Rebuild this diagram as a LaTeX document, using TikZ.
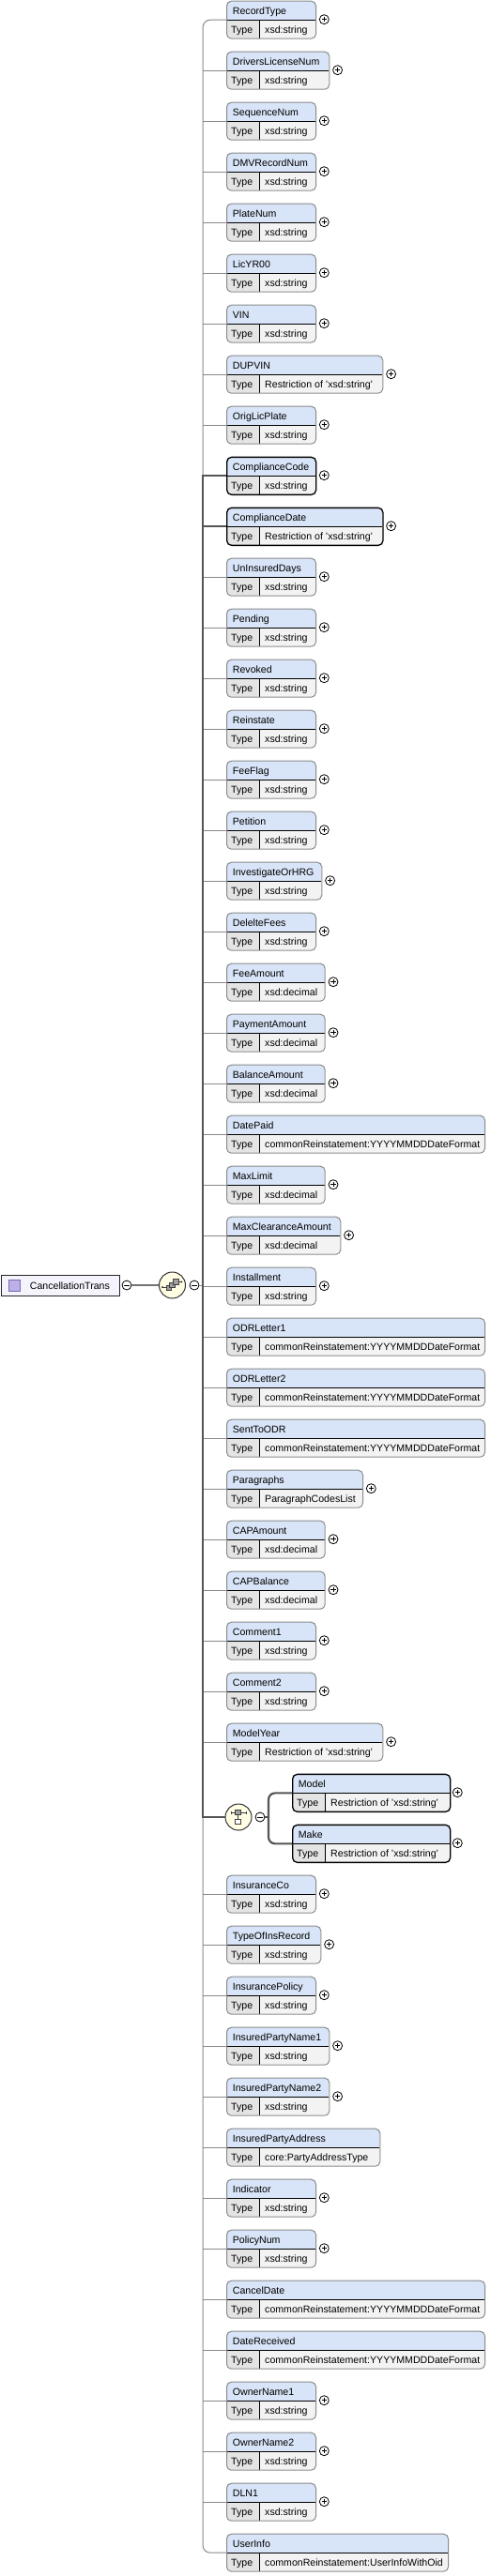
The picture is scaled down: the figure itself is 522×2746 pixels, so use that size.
\documentclass[tikz,border=0pt]{standalone}
\usepackage{fontspec}
\setmainfont{Liberation Sans}
\definecolor{hdr}{HTML}{D8E4F7}
\definecolor{typec}{HTML}{E4E4E4}
\definecolor{valc}{HTML}{F3F3F3}
\definecolor{conn}{HTML}{8A8A8A}
\definecolor{tconn}{HTML}{555555}
\definecolor{bord}{HTML}{8C8C8C}
\definecolor{rootfill}{HTML}{F5F3FB}
\definecolor{iconfill}{HTML}{BDB0E6}
\definecolor{icondraw}{HTML}{7A6BB5}
\definecolor{compfill}{HTML}{FFFDE3}
\definecolor{sqfill}{HTML}{A0A0A0}
\tikzset{
  thinconn/.style={draw=conn, line width=1pt},
  thickconn/.style={draw=tconn, line width=2.2pt},
  rootconn/.style={draw=black!55, line width=2pt},
  optbox/.style={draw=bord, line width=1pt},
  reqbox/.style={draw=black, line width=1.3pt},
  lbl/.style={anchor=base west, inner sep=0pt, font=\fontsize{10.6}{12}\selectfont},
  plusc/.style={circle, draw=black, fill=white, line width=0.8pt, minimum size=10pt, inner sep=0pt,
    path picture={\draw[line width=0.8pt] ([xshift=-2.6pt]path picture bounding box.center) -- ([xshift=2.6pt]path picture bounding box.center) ([yshift=-2.6pt]path picture bounding box.center) -- ([yshift=2.6pt]path picture bounding box.center);}},
  minusc/.style={circle, draw=black, fill=white, line width=0.8pt, minimum size=10pt, inner sep=0pt,
    path picture={\draw[line width=0.8pt] ([xshift=-2.6pt]path picture bounding box.center) -- ([xshift=2.6pt]path picture bounding box.center);}},
  compc/.style={circle, draw=black!80, fill=compfill, line width=1pt, minimum size=28pt, inner sep=0pt},
  graysq/.style={draw=black!75, fill=sqfill, line width=0.7pt, minimum size=5.5pt, inner sep=0pt},
  whitesq/.style={draw=black!75, fill=white, line width=0.7pt, minimum size=5.5pt, inner sep=0pt},
  rootbox/.style={draw=black!85, fill=rootfill, line width=1pt, anchor=north west, minimum width=126pt, minimum height=22pt, inner sep=0pt},
  iconbox/.style={draw=icondraw, fill=iconfill, line width=0.8pt, minimum size=12pt, inner sep=0pt}
}
% #1 index, #2 left, #3 right, #4 label, #5 type, #6 border style
\newcommand\xel[6]{%
  \pgfmathsetmacro\xtp{0.7+54*#1}%
  \pgfmathsetmacro\xbt{\xtp+40}%
  \pgfmathsetmacro\xhd{\xtp+20.6}%
  \pgfmathsetmacro\xtc{#2+35.3}%
  \pgfmathsetmacro\xwd{#3-#2}%
  \begin{scope}
    \clip[rounded corners=5pt] (#2,\xtp) rectangle (#3,\xbt);
    \fill[valc] (#2,\xtp) rectangle (#3,\xbt);
    \fill[hdr] (#2,\xtp) rectangle (#3,\xhd);
    \fill[typec] (#2,\xhd) rectangle (\xtc,\xbt);
  \end{scope}
  \draw[black, line width=0.9pt] (#2,\xhd) -- (#3,\xhd) (\xtc,\xhd) -- (\xtc,\xbt);
  \node[#6, rounded corners=5pt, anchor=north west, minimum width=\xwd pt, minimum height=40pt, inner sep=0pt] (e#1) at (#2,\xtp) {};
  \node[lbl] (e#1n) at (#2+6.7,\xtp+14.8) {#4};
  \node[lbl] (e#1k) at (#2+5,\xtp+34.6) {Type};
  \node[lbl] (e#1t) at (#2+41,\xtp+34.6) {#5};
}
\newcommand\xplus[2]{%
  \pgfmathsetmacro\xpy{0.7+54*#1+20}%
  \node[plusc] (p#1) at (#2+9.3,\xpy) {};
}
\begin{document}
\begin{tikzpicture}[x=1pt,y=-1pt]
\useasboundingbox (0,0) rectangle (522,2746);
\fill[white] (0,0) rectangle (522,2746);

\coordinate (sp) at (216,1370);
\coordinate (br) at (286,1937);

% elements
\xel{0}{241}{336}{RecordType}{xsd:string}{optbox}\xplus{0}{336}
\xel{1}{241}{350.3}{DriversLicenseNum}{xsd:string}{optbox}\xplus{1}{350.3}
\xel{2}{241}{336}{SequenceNum}{xsd:string}{optbox}\xplus{2}{336}
\xel{3}{241}{336}{DMVRecordNum}{xsd:string}{optbox}\xplus{3}{336}
\xel{4}{241}{336}{PlateNum}{xsd:string}{optbox}\xplus{4}{336}
\xel{5}{241}{336}{LicYR00}{xsd:string}{optbox}\xplus{5}{336}
\xel{6}{241}{336}{VIN}{xsd:string}{optbox}\xplus{6}{336}
\xel{7}{241}{407.3}{DUPVIN}{Restriction of 'xsd:string'}{optbox}\xplus{7}{407.3}
\xel{8}{241}{336}{OrigLicPlate}{xsd:string}{optbox}\xplus{8}{336}
\xel{9}{241}{336}{ComplianceCode}{xsd:string}{reqbox}\xplus{9}{336}
\xel{10}{241}{407.3}{ComplianceDate}{Restriction of 'xsd:string'}{reqbox}\xplus{10}{407.3}
\xel{11}{241}{336}{UnInsuredDays}{xsd:string}{optbox}\xplus{11}{336}
\xel{12}{241}{336}{Pending}{xsd:string}{optbox}\xplus{12}{336}
\xel{13}{241}{336}{Revoked}{xsd:string}{optbox}\xplus{13}{336}
\xel{14}{241}{336}{Reinstate}{xsd:string}{optbox}\xplus{14}{336}
\xel{15}{241}{336}{FeeFlag}{xsd:string}{optbox}\xplus{15}{336}
\xel{16}{241}{336}{Petition}{xsd:string}{optbox}\xplus{16}{336}
\xel{17}{241}{342.3}{InvestigateOrHRG}{xsd:string}{optbox}\xplus{17}{342.3}
\xel{18}{241}{336}{DelelteFees}{xsd:string}{optbox}\xplus{18}{336}
\xel{19}{241}{345.7}{FeeAmount}{xsd:decimal}{optbox}\xplus{19}{345.7}
\xel{20}{241}{345.7}{PaymentAmount}{xsd:decimal}{optbox}\xplus{20}{345.7}
\xel{21}{241}{345.7}{BalanceAmount}{xsd:decimal}{optbox}\xplus{21}{345.7}
\xel{22}{241}{516}{DatePaid}{commonReinstatement:YYYYMMDDDateFormat}{optbox}
\xel{23}{241}{345.7}{MaxLimit}{xsd:decimal}{optbox}\xplus{23}{345.7}
\xel{24}{241}{362.3}{MaxClearanceAmount}{xsd:decimal}{optbox}\xplus{24}{362.3}
\xel{25}{241}{336}{Installment}{xsd:string}{optbox}\xplus{25}{336}
\xel{26}{241}{516}{ODRLetter1}{commonReinstatement:YYYYMMDDDateFormat}{optbox}
\xel{27}{241}{516}{ODRLetter2}{commonReinstatement:YYYYMMDDDateFormat}{optbox}
\xel{28}{241}{516}{SentToODR}{commonReinstatement:YYYYMMDDDateFormat}{optbox}
\xel{29}{241}{386}{Paragraphs}{ParagraphCodesList}{optbox}\xplus{29}{386}
\xel{30}{241}{345.7}{CAPAmount}{xsd:decimal}{optbox}\xplus{30}{345.7}
\xel{31}{241}{345.7}{CAPBalance}{xsd:decimal}{optbox}\xplus{31}{345.7}
\xel{32}{241}{336}{Comment1}{xsd:string}{optbox}\xplus{32}{336}
\xel{33}{241}{336}{Comment2}{xsd:string}{optbox}\xplus{33}{336}
\xel{34}{241}{407.3}{ModelYear}{Restriction of 'xsd:string'}{optbox}\xplus{34}{407.3}
\xel{35}{311}{479}{Model}{Restriction of 'xsd:string'}{reqbox}\xplus{35}{478}
\xel{36}{311}{479}{Make}{Restriction of 'xsd:string'}{reqbox}\xplus{36}{478}
\xel{37}{241}{336}{InsuranceCo}{xsd:string}{optbox}\xplus{37}{336}
\xel{38}{241}{341.3}{TypeOfInsRecord}{xsd:string}{optbox}\xplus{38}{341.3}
\xel{39}{241}{336}{InsurancePolicy}{xsd:string}{optbox}\xplus{39}{336}
\xel{40}{241}{350.3}{InsuredPartyName1}{xsd:string}{optbox}\xplus{40}{350.3}
\xel{41}{241}{350.3}{InsuredPartyName2}{xsd:string}{optbox}\xplus{41}{350.3}
\xel{42}{241}{404.3}{InsuredPartyAddress}{core:PartyAddressType}{optbox}
\xel{43}{241}{336}{Indicator}{xsd:string}{optbox}\xplus{43}{336}
\xel{44}{241}{336}{PolicyNum}{xsd:string}{optbox}\xplus{44}{336}
\xel{45}{241}{516}{CancelDate}{commonReinstatement:YYYYMMDDDateFormat}{optbox}
\xel{46}{241}{516}{DateReceived}{commonReinstatement:YYYYMMDDDateFormat}{optbox}
\xel{47}{241}{336}{OwnerName1}{xsd:string}{optbox}\xplus{47}{336}
\xel{48}{241}{336}{OwnerName2}{xsd:string}{optbox}\xplus{48}{336}
\xel{49}{241}{336}{DLN1}{xsd:string}{optbox}\xplus{49}{336}
\xel{50}{241}{477}{UserInfo}{commonReinstatement:UserInfoWithOid}{optbox}

% root element
\node[rootbox] (root) at (0.5,1359) {};
\node[iconbox] (rooticon) at (15.5,1370) {};
\node[lbl] (rootlbl) at (31.7,1374.3) {CancellationTrans};
\node[minusc] (m1) at (135,1370) {};

% sequence compositor
\node[compc] (seq) at (183.5,1370) {};
\node[minusc] (m2) at (207,1370) {};
\draw[rootconn] (m1.east) -- (seq.west);
\draw[black!75, line width=0.8pt] (173,1372) -- (177.5,1372) (189,1366.5) -- (193.5,1366.5);
\fill[black] (173,1372) circle (0.9pt) (193.5,1366.5) circle (0.9pt);
\node[graysq] (sq1) at (179.8,1372.8) {};
\node[graysq] (sq2) at (183.5,1369.6) {};
\node[graysq] (sq3) at (187.2,1366.4) {};
\draw[thinconn] (m2.east) -- (sp);

% spine
\draw[thinconn, rounded corners=8pt] (e0.west) -| (sp) |- (e50.west);
\foreach \i in {1,...,8,11,12,...,34,37,38,...,49}{
  \draw[thinconn] (e\i.west -| sp) -- (e\i.west);
}

% choice compositor
\node[compc] (ch) at (254,1937) {};
\node[minusc] (m3) at (277,1937) {};
\draw[thickconn] (e9.west) -| (ch.west -| sp) -- (ch.west);
\draw[thickconn] (e10.west -| sp) -- (e10.west);
\draw[black!75, line width=0.8pt] (246.3,1932) -- (262.5,1932);
\draw[black!75, line width=0.8pt] (246.3,1930.5) -- (246.3,1933.5) (262.5,1930.5) -- (262.5,1933.5);
\node[graysq] (csq1) at (253.5,1932) {};
\node[whitesq] (csq2) at (253.5,1941.8) {};
\draw[black!75, line width=0.8pt] (csq1.south) -- (csq2.north);
\draw[thickconn] (m3.east) -- (br);
\draw[thickconn, rounded corners=7pt] (br) |- (e35.west);
\draw[thickconn, rounded corners=7pt] (br) |- (e36.west);
\end{tikzpicture}
\end{document}
